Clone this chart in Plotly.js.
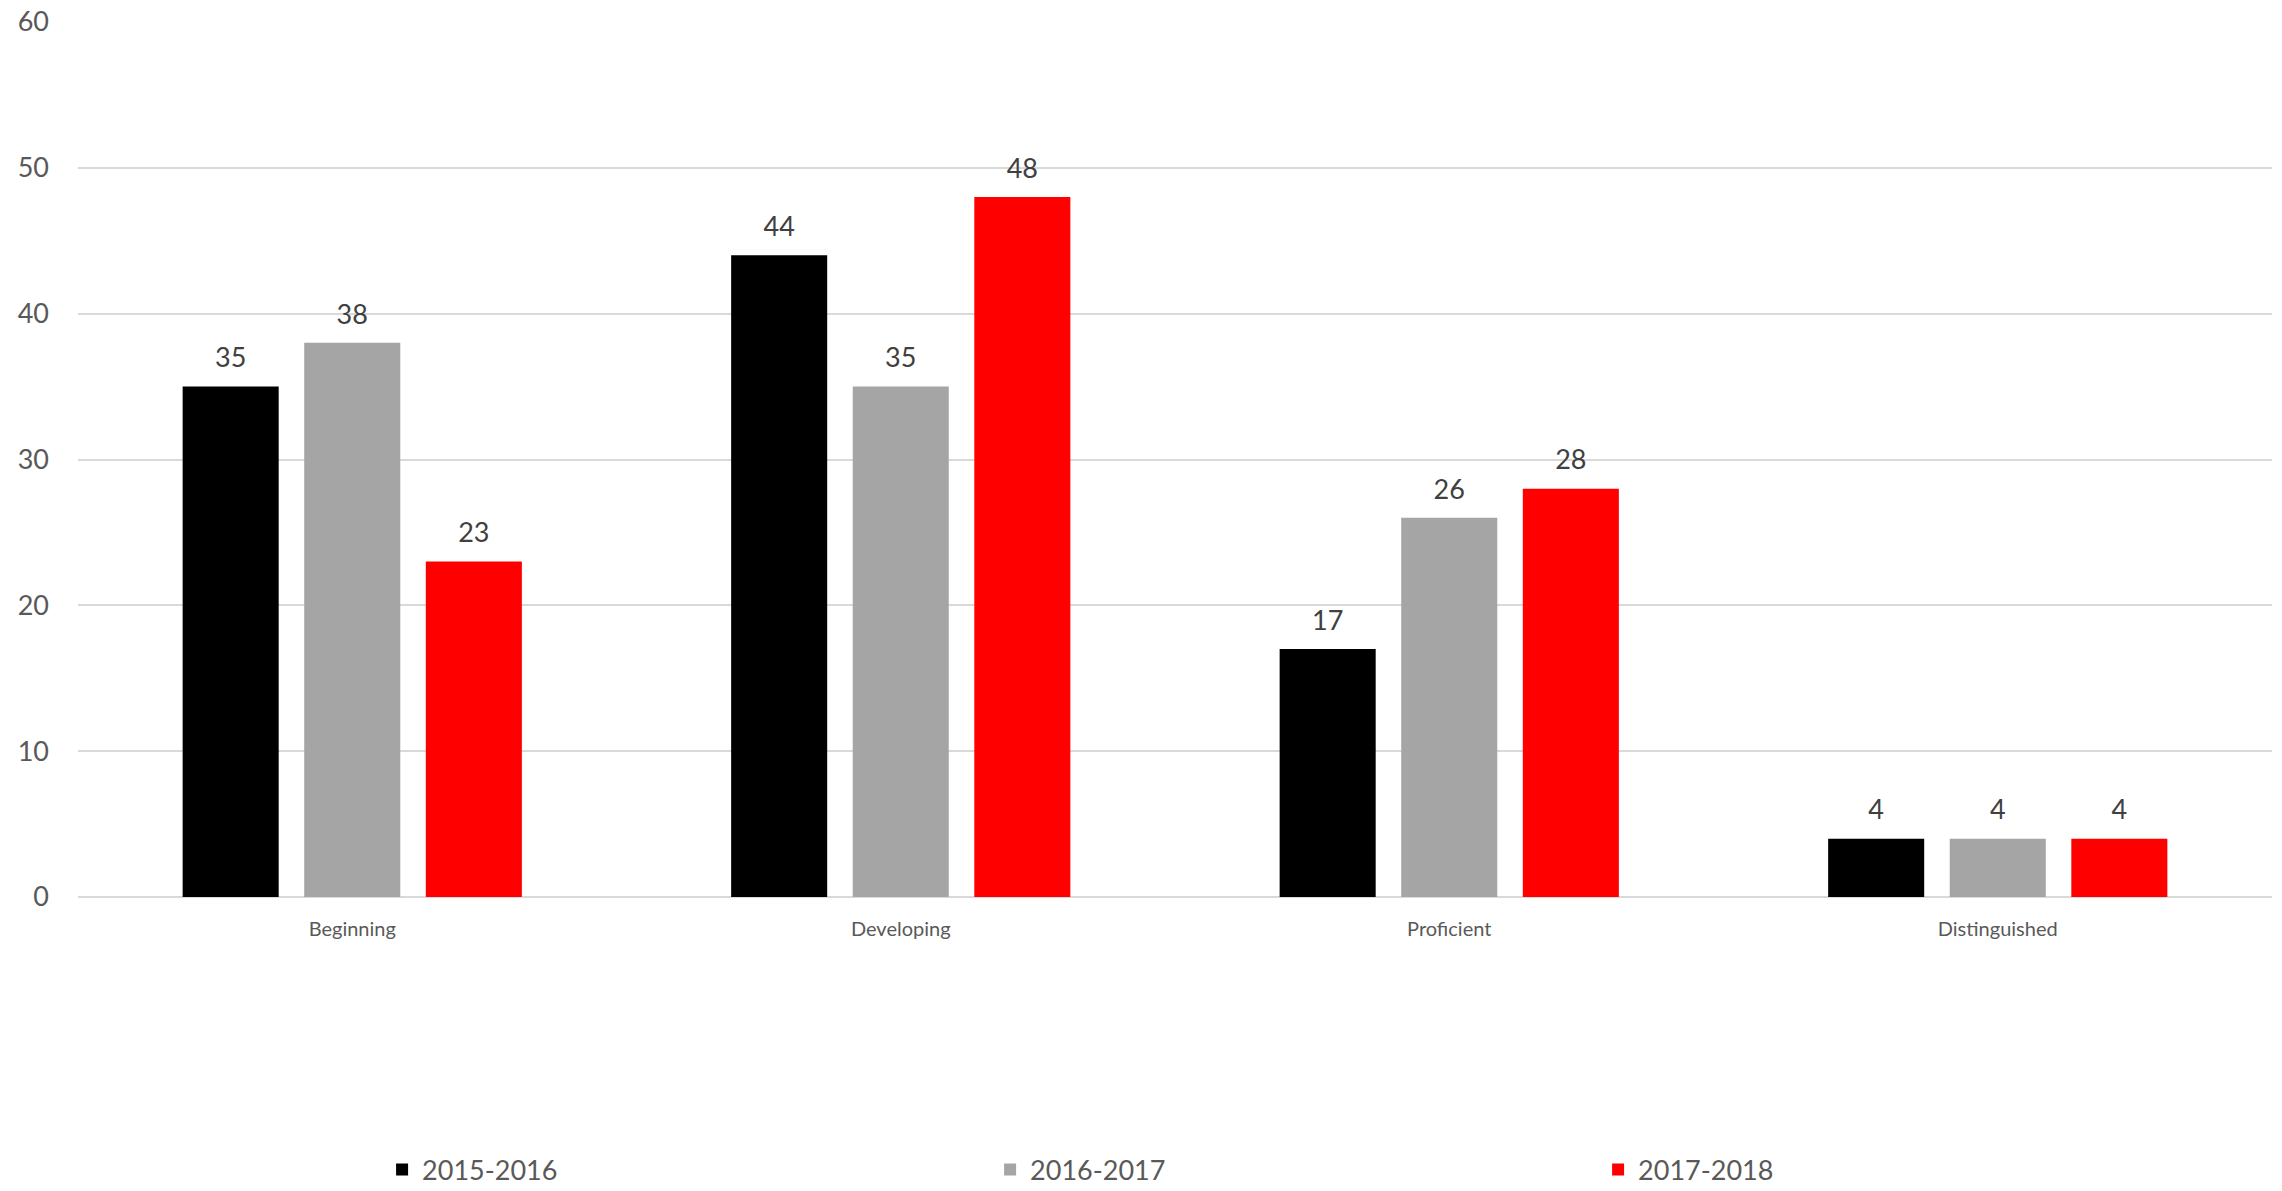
<!DOCTYPE html>
<html>
<head>
<meta charset="utf-8">
<script src="https://cdn.plot.ly/plotly-3.0.1.min.js"></script>
<style>html,body{margin:0;padding:0;background:#fff;}#chart{width:2282px;height:1191px;}</style>
</head>
<body>
<div id="chart"></div>
<script>
const categories = ["Beginning", "Developing", "Proficient", "Distinguished"];
const seriesNames = ["2015-2016", "2016-2017", "2017-2018"];
const values2015 = [35, 44, 17, 4];
const values2016 = [38, 35, 26, 4];
const values2017 = [23, 48, 28, 4];
const yTicks = [0, 10, 20, 30, 40, 50, 60];
const colors = ["#000000", "#A5A5A5", "#FF0000"];

const seriesValues = [values2015, values2016, values2017];
const FONT = "Lato, 'Open Sans', sans-serif";

const traces = seriesValues.map((vals, i) => ({
  type: "bar",
  name: seriesNames[i],
  x: categories,
  y: vals,
  marker: {color: colors[i]},
  texttemplate: '<span style="font-size:27px">%{y}</span><br> ',
  textposition: "outside",
  constraintext: "none",
  textfont: {family: FONT, size: 11, color: "#404040"},
  cliponaxis: false,
  hoverinfo: "skip"
}));

const layout = {
  width: 2282,
  height: 1191,
  margin: {l: 78, r: 10, t: 22, b: 294, autoexpand: false},
  paper_bgcolor: "#ffffff",
  plot_bgcolor: "#ffffff",
  barmode: "group",
  bargap: 0.335,
  bargroupgap: 0.21,
  showlegend: true,
  font: {family: FONT, color: "#595959"},
  xaxis: {
    type: "category",
    tickfont: {family: FONT, size: 20, color: "#595959"},
    showgrid: false,
    showline: false,
    zeroline: false,
    ticks: "",
    ticklabelstandoff: 18
  },
  yaxis: {
    range: [0, 60],
    tickvals: yTicks,
    ticktext: yTicks.map(String),
    tickfont: {family: FONT, size: 27, color: "#595959"},
    showgrid: true,
    gridcolor: "#D9D9D9",
    gridwidth: 2,
    zeroline: true,
    zerolinecolor: "#D9D9D9",
    zerolinewidth: 2,
    showline: false,
    ticks: "",
    ticklabelstandoff: 28
  },
  legend: {
    orientation: "h",
    x: 0.1386,
    xanchor: "left",
    y: -0.312,
    yanchor: "middle",
    entrywidth: 563,
    entrywidthmode: "pixels",
    font: {family: FONT, size: 27, color: "#595959"},
    traceorder: "normal"
  }
};

Plotly.newPlot("chart", traces, layout, {displayModeBar: false, staticPlot: true});
</script>
</body>
</html>
